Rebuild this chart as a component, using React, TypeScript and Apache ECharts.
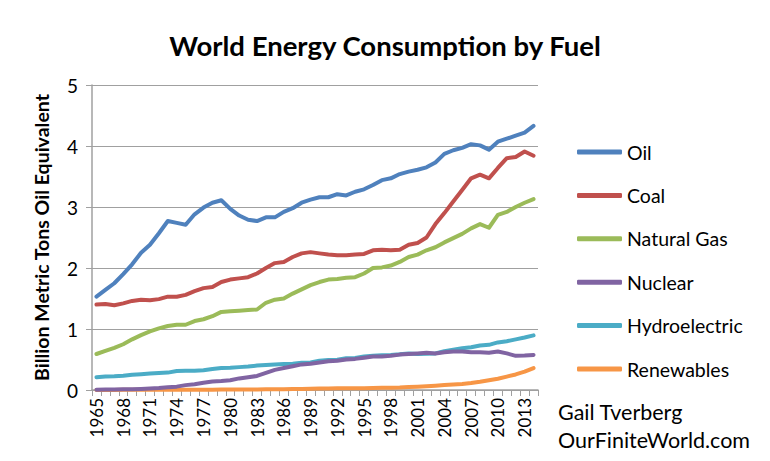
import React, { useEffect, useRef } from "react";
import * as echarts from "echarts";

const years: string[] = [];
for (let y = 1965; y <= 2014; y++) years.push(String(y));

const oil = [1.53, 1.64, 1.75, 1.9, 2.06, 2.25, 2.38, 2.57, 2.77, 2.74, 2.71, 2.88, 2.99, 3.07, 3.11, 2.97, 2.86, 2.79, 2.77, 2.83, 2.83, 2.92, 2.98, 3.07, 3.12, 3.16, 3.16, 3.21, 3.19, 3.25, 3.29, 3.36, 3.44, 3.47, 3.54, 3.58, 3.61, 3.65, 3.73, 3.87, 3.93, 3.97, 4.03, 4.01, 3.94, 4.07, 4.12, 4.17, 4.22, 4.33];
const coal = [1.4, 1.41, 1.39, 1.42, 1.46, 1.48, 1.47, 1.49, 1.53, 1.53, 1.56, 1.62, 1.67, 1.69, 1.77, 1.81, 1.83, 1.85, 1.91, 2.0, 2.08, 2.1, 2.18, 2.24, 2.26, 2.24, 2.22, 2.21, 2.21, 2.22, 2.23, 2.29, 2.3, 2.29, 2.3, 2.38, 2.41, 2.5, 2.72, 2.9, 3.09, 3.28, 3.47, 3.53, 3.47, 3.64, 3.8, 3.82, 3.91, 3.84];
const gas = [0.59, 0.64, 0.69, 0.75, 0.83, 0.9, 0.96, 1.01, 1.05, 1.07, 1.07, 1.13, 1.16, 1.21, 1.28, 1.29, 1.3, 1.31, 1.32, 1.43, 1.48, 1.5, 1.58, 1.65, 1.72, 1.77, 1.81, 1.82, 1.84, 1.85, 1.91, 2.0, 2.01, 2.04, 2.1, 2.18, 2.22, 2.29, 2.34, 2.42, 2.49, 2.56, 2.65, 2.72, 2.66, 2.87, 2.92, 3.0, 3.07, 3.13];
const nuclear = [0.006, 0.008, 0.009, 0.012, 0.014, 0.018, 0.025, 0.032, 0.045, 0.055, 0.08, 0.095, 0.12, 0.14, 0.146, 0.161, 0.19, 0.21, 0.23, 0.28, 0.33, 0.36, 0.39, 0.42, 0.43, 0.45, 0.47, 0.48, 0.5, 0.51, 0.53, 0.55, 0.55, 0.56, 0.58, 0.59, 0.6, 0.61, 0.6, 0.62, 0.63, 0.63, 0.62, 0.62, 0.61, 0.63, 0.6, 0.56, 0.565, 0.575];
const hydro = [0.21, 0.22, 0.225, 0.235, 0.25, 0.26, 0.27, 0.28, 0.285, 0.31, 0.315, 0.315, 0.325, 0.345, 0.36, 0.365, 0.375, 0.385, 0.4, 0.41, 0.42, 0.425, 0.43, 0.445, 0.45, 0.48, 0.49, 0.495, 0.52, 0.525, 0.55, 0.56, 0.57, 0.575, 0.585, 0.6, 0.59, 0.595, 0.6, 0.635, 0.66, 0.685, 0.7, 0.73, 0.74, 0.78, 0.8, 0.83, 0.86, 0.895];
const renewables = [0.002, 0.002, 0.002, 0.003, 0.003, 0.003, 0.004, 0.004, 0.004, 0.005, 0.005, 0.005, 0.006, 0.006, 0.007, 0.007, 0.008, 0.009, 0.01, 0.011, 0.012, 0.014, 0.016, 0.018, 0.022, 0.025, 0.026, 0.027, 0.028, 0.029, 0.03, 0.032, 0.035, 0.038, 0.042, 0.05, 0.055, 0.062, 0.07, 0.08, 0.09, 0.1, 0.115, 0.135, 0.16, 0.185, 0.22, 0.255, 0.3, 0.36];

const seriesNames = ["Oil", "Coal", "Natural Gas", "Nuclear", "Hydroelectric", "Renewables"];
const seriesColors = ["#4F81BD", "#C0504D", "#9BBB59", "#8064A2", "#4BACC6", "#F79646"];
const seriesData = [oil, coal, gas, nuclear, hydro, renewables];

const FONT = "Lato, 'Open Sans', sans-serif";

export default function App() {
  const ref = useRef<HTMLDivElement>(null);
  useEffect(() => {
    if (!ref.current) return;
    const chart = echarts.init(ref.current, null, { renderer: "svg" });
    chart.setOption({
      animation: false,
      backgroundColor: "#ffffff",
      textStyle: { fontFamily: FONT },
      title: {
        text: "World Energy Consumption by Fuel",
        left: "center",
        top: 26,
        textStyle: { fontSize: 27.5, fontWeight: "bold", color: "#000", fontFamily: FONT },
      },
      grid: { left: 92, right: 232, top: 85, bottom: 71 },
      legend: {
        orient: "vertical",
        left: 577,
        top: 142,
        padding: 0,
        itemWidth: 45,
        itemHeight: 5,
        itemGap: 23.4,
        itemTextGap: 3,
        icon: "roundRect",
        data: seriesNames,
        textStyle: { fontSize: 19.5, color: "#000", fontFamily: FONT, lineHeight: 20 },
      },
      xAxis: {
        type: "category",
        data: years,
        boundaryGap: true,
        axisLine: { lineStyle: { color: "#a0a0a0", width: 1.5 } },
        axisTick: { show: true, interval: 0, length: 6, lineStyle: { color: "#a0a0a0" } },
        axisLabel: { interval: 2, rotate: 90, fontSize: 17, color: "#000", margin: 8, fontFamily: FONT },
        splitLine: { show: false },
      },
      yAxis: {
        type: "value",
        min: 0,
        max: 5,
        interval: 1,
        name: "Billion Metric Tons Oil Equivalent",
        nameLocation: "middle",
        nameGap: 41,
        nameTextStyle: { fontSize: 19.5, fontWeight: "bold", color: "#000", fontFamily: FONT },
        axisLine: { show: true, lineStyle: { color: "#a0a0a0", width: 1.5 } },
        axisTick: { show: true, length: 6, inside: false, lineStyle: { color: "#a0a0a0" } },
        axisLabel: { fontSize: 19, color: "#000", margin: 14, fontFamily: FONT },
        splitLine: { lineStyle: { color: "#a0a0a0", width: 1.2 } },
      },
      series: seriesNames.map((n, i) => ({
        name: n,
        type: "line",
        data: seriesData[i],
        showSymbol: false,
        symbol: "none",
        color: seriesColors[i],
        lineStyle: { width: 4, color: seriesColors[i], cap: "round", join: "round" },
        z: 10 - i,
      })),
      graphic: [
        {
          type: "text",
          left: 558,
          top: 401,
          style: { text: "Gail Tverberg", fontSize: 21.5, fill: "#000", fontFamily: FONT },
        },
        {
          type: "text",
          left: 558,
          top: 429,
          style: { text: "OurFiniteWorld.com", fontSize: 21.5, fill: "#000", fontFamily: FONT },
        },
      ],
    });
    return () => chart.dispose();
  }, []);
  return <div ref={ref} style={{ width: 770, height: 461, position: "absolute", left: 0, top: 0 }} />;
}
